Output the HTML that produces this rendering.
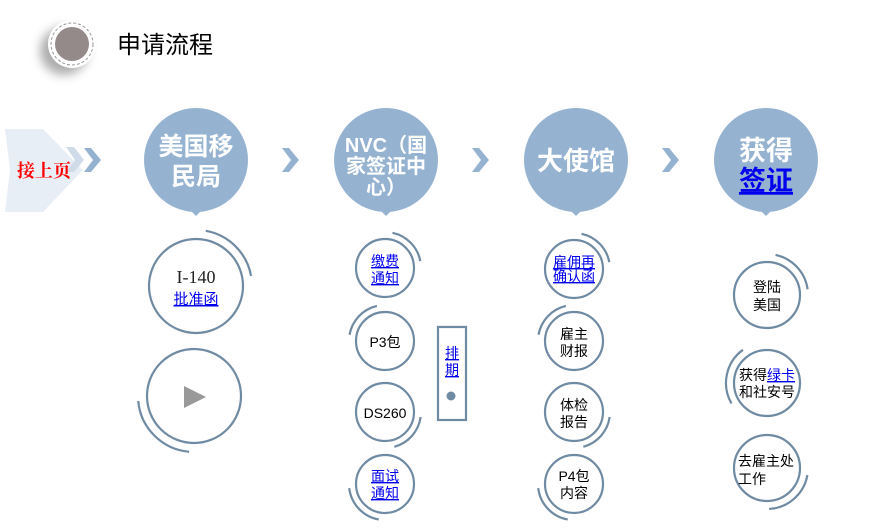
<!DOCTYPE html>
<html><head><meta charset="utf-8"><style>
html,body{margin:0;padding:0;background:#fff;}
svg{display:block;font-family:"Liberation Sans","Noto Sans CJK SC",sans-serif;}
.bt{fill:#fff;font-weight:bold;text-anchor:middle;}
.t{font-size:14px;text-anchor:middle;fill:#000;}
.l{fill:#0000ee;text-decoration:underline;}
</style></head><body>
<svg width="891" height="532" viewBox="0 0 891 532" xmlns="http://www.w3.org/2000/svg">
<defs>
<filter id="sh" x="-80%" y="-80%" width="260%" height="260%"><feGaussianBlur stdDeviation="5"/></filter>
</defs>
<circle cx="64" cy="51" r="24" fill="#777" opacity="0.6" filter="url(#sh)"/>
<circle cx="72" cy="44" r="24" fill="#fff"/>
<circle cx="72" cy="44" r="21" fill="none" stroke="#999" stroke-width="1" stroke-dasharray="3,2"/>
<circle cx="72" cy="44" r="17" fill="#948a8a"/>
<text x="117" y="53" font-size="24" fill="#000">申请流程</text>

<polygon points="5,129 43,129 83,170 43,212 5,212 10,170" fill="#e8eef5"/>
<polygon points="66,147 74,147 84,160 74,172 66,172 75,160" fill="#cfdbe8"/>
<polygon points="84,148 91,148 101,160 91,172 84,172 93,160" fill="#95b3d1"/>
<text x="44" y="177" font-size="18" fill="#ff0000" text-anchor="middle" font-family="Liberation Serif,'Noto Serif CJK SC',serif" font-weight="bold">接上页</text>

<g fill="#95b3d1">
<polygon points="282,148 289,148 299,160 289,172 282,172 291,160"/>
<polygon points="472,148 479,148 489,160 479,172 472,172 481,160"/>
<polygon points="662,148 669,148 679,160 669,172 662,172 671,160"/>
</g>

<g fill="#95b3d1">
<circle cx="196" cy="160" r="52"/><polygon points="190,210 202,210 196,216"/>
<circle cx="386" cy="160" r="52"/><polygon points="380,210 392,210 386,216"/>
<circle cx="576" cy="160" r="52"/><polygon points="570,210 582,210 576,216"/>
<circle cx="766" cy="160" r="52"/><polygon points="760,210 772,210 766,216"/>
</g>
<text class="bt" x="196" y="155" font-size="25">美国移</text>
<text class="bt" x="196" y="185" font-size="25">民局</text>
<text class="bt" x="386" y="152" font-size="20">NVC（国</text>
<text class="bt" x="386" y="173" font-size="20">家签证中</text>
<text class="bt" x="386" y="194" font-size="20">心）</text>
<text class="bt" x="576" y="170" font-size="26">大使馆</text>
<text class="bt" x="766" y="160" font-size="27">获得</text>
<text class="bt" x="766" y="190" font-size="27" style="fill:#0000ee;text-decoration:underline">签证</text>

<g fill="none" stroke="#6f8aa3" stroke-width="2.2">
<circle cx="196" cy="286" r="47"/>
<circle cx="196" cy="286" r="56" stroke-dasharray="68 400" transform="rotate(-80 196 286)"/>
<circle cx="194" cy="396" r="47"/>
<circle cx="194" cy="396" r="56" stroke-dasharray="78 400" transform="rotate(95 194 396)"/>
<circle cx="385" cy="268" r="29"/>
<circle cx="385" cy="268" r="36" stroke-dasharray="42 400" transform="rotate(-78 385 268)"/>
<circle cx="385" cy="341" r="29"/>
<circle cx="385" cy="341" r="36" stroke-dasharray="42 400" transform="rotate(190 385 341)"/>
<circle cx="385" cy="412" r="29"/>
<circle cx="385" cy="412" r="36" stroke-dasharray="42 400" transform="rotate(8 385 412)"/>
<circle cx="385" cy="484" r="29"/>
<circle cx="385" cy="484" r="36" stroke-dasharray="46 400" transform="rotate(100 385 484)"/>
<rect x="438" y="327" width="28" height="93"/>
<circle cx="574" cy="269" r="29"/>
<circle cx="574" cy="269" r="36" stroke-dasharray="42 400" transform="rotate(-78 574 269)"/>
<circle cx="574" cy="341" r="29"/>
<circle cx="574" cy="341" r="36" stroke-dasharray="42 400" transform="rotate(190 574 341)"/>
<circle cx="574" cy="412" r="29"/>
<circle cx="574" cy="412" r="36" stroke-dasharray="42 400" transform="rotate(8 574 412)"/>
<circle cx="574" cy="484" r="29"/>
<circle cx="574" cy="484" r="36" stroke-dasharray="46 400" transform="rotate(100 574 484)"/>
<circle cx="767" cy="295" r="33"/>
<circle cx="767" cy="295" r="41" stroke-dasharray="50 400" transform="rotate(-78 767 295)"/>
<circle cx="767" cy="383" r="33"/>
<circle cx="767" cy="383" r="41" stroke-dasharray="60 400" transform="rotate(150 767 383)"/>
<circle cx="767" cy="468" r="33"/>
<circle cx="767" cy="468" r="41" stroke-dasharray="55 400" transform="rotate(10 767 468)"/>
</g>
<circle cx="451" cy="396" r="4.5" fill="#6f8aa3"/>
<polygon points="184,386 206,397 184,408" fill="#999"/>

<text x="196" y="283" font-size="18" text-anchor="middle" font-family="Liberation Serif,serif" fill="#222">I-140</text>
<text x="196" y="304" font-size="15" text-anchor="middle" class="l">批准函</text>

<text class="t l" x="385" y="266">缴费</text>
<text class="t l" x="385" y="283">通知</text>
<text class="t" x="385" y="347" font-size="16">P3包</text>
<text class="t" x="385" y="418" font-size="16">DS260</text>
<text class="t l" x="385" y="481">面试</text>
<text class="t l" x="385" y="498">通知</text>
<text class="t l" x="452" y="358" font-size="16">排</text>
<text class="t l" x="452" y="375" font-size="16">期</text>

<text class="t l" x="574" y="267">雇佣再</text>
<text class="t l" x="574" y="281">确认函</text>
<text class="t" x="574" y="339">雇主</text>
<text class="t" x="574" y="356">财报</text>
<text class="t" x="574" y="410">体检</text>
<text class="t" x="574" y="427">报告</text>
<text class="t" x="574" y="481">P4包</text>
<text class="t" x="574" y="498">内容</text>

<text class="t" x="767" y="292" font-size="15">登陆</text>
<text class="t" x="767" y="310" font-size="15">美国</text>
<text class="t" x="767" y="380">获得<tspan class="l">绿卡</tspan></text>
<text class="t" x="767" y="397">和社安号</text>
<text class="t" x="766" y="466">去雇主处</text>
<text x="738" y="484" font-size="14">工作</text>
</svg>
</body></html>
